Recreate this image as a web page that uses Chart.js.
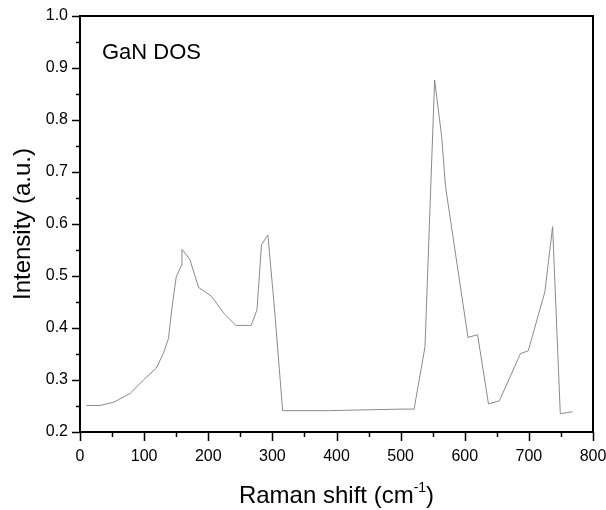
<!DOCTYPE html>
<html>
<head>
<meta charset="utf-8">
<script src="https://cdn.jsdelivr.net/npm/chart.js@4"></script>
<style>
  html, body { margin: 0; padding: 0; background: #fff; }
  #wrap { width: 606px; height: 510px; }
</style>
</head>
<body>
<div id="wrap"><canvas id="dosChart" width="606" height="510"></canvas></div>
<script>
// Raman shift (cm-1) and intensity
const ramanShift = [10, 31, 52, 78, 99, 119, 130, 138, 143, 150, 158, 159, 171, 185, 205, 224, 243, 267, 276, 283, 293, 304, 316, 385, 500, 521, 538, 553, 564, 570, 605, 620, 637, 654, 687, 699, 725, 737, 749, 768];
const intensity = [0.251, 0.251, 0.257, 0.274, 0.300, 0.323, 0.351, 0.38, 0.435, 0.498, 0.520, 0.551, 0.533, 0.478, 0.461, 0.429, 0.405, 0.405, 0.435, 0.560, 0.579, 0.427, 0.241, 0.241, 0.244, 0.244, 0.364, 0.877, 0.768, 0.672, 0.382, 0.387, 0.254, 0.260, 0.351, 0.356, 0.470, 0.595, 0.235, 0.239];

const xTicks = [0, 100, 200, 300, 400, 500, 600, 700, 800];
const yTicks = [0.2, 0.3, 0.4, 0.5, 0.6, 0.7, 0.8, 0.9, 1.0];

const FONT = 'Arial, "Liberation Sans", Helvetica, sans-serif';

// keep the plot box where the reference has it
function fixPadding(scale) {
    scale.paddingTop = 0;
    scale.paddingBottom = 0;
    scale.paddingLeft = 0;
    scale.paddingRight = 0;
}

// draws the frame, the outward major/minor ticks and the text labels
const framePlugin = {
    id: 'frame',
    afterDraw(chart) {
        const ctx = chart.ctx;
        const area = chart.chartArea;
        const xs = chart.scales.x;
        const ys = chart.scales.y;
        ctx.save();
        ctx.strokeStyle = '#000';
        ctx.lineWidth = 2;
        ctx.strokeRect(area.left, area.top, area.right - area.left, area.bottom - area.top);

        ctx.lineWidth = 1.5;
        ctx.beginPath();
        for (let i = 0; i < xTicks.length; i++) {
            const px = Math.round(xs.getPixelForValue(xTicks[i])) + 0.5;
            ctx.moveTo(px, area.bottom);
            ctx.lineTo(px, area.bottom + 9);
            if (i < xTicks.length - 1) {
                const mx = Math.round(xs.getPixelForValue((xTicks[i] + xTicks[i + 1]) / 2)) + 0.5;
                ctx.moveTo(mx, area.bottom);
                ctx.lineTo(mx, area.bottom + 5);
            }
        }
        for (let i = 0; i < yTicks.length; i++) {
            const py = Math.round(ys.getPixelForValue(yTicks[i])) + 0.5;
            ctx.moveTo(area.left, py);
            ctx.lineTo(area.left - 8, py);
            if (i < yTicks.length - 1) {
                const my = Math.round(ys.getPixelForValue((yTicks[i] + yTicks[i + 1]) / 2)) + 0.5;
                ctx.moveTo(area.left, my);
                ctx.lineTo(area.left - 4, my);
            }
        }
        ctx.stroke();

        // inset label
        ctx.fillStyle = '#000';
        ctx.font = '22px ' + FONT;
        ctx.textAlign = 'left';
        ctx.textBaseline = 'alphabetic';
        ctx.fillText('GaN DOS', area.left + 22, area.top + 43);

        // x axis title with superscript
        const main = 'Raman shift (cm';
        const sup = '-1';
        const close = ')';
        ctx.font = '24px ' + FONT;
        const w1 = ctx.measureText(main).width;
        const w3 = ctx.measureText(close).width;
        ctx.font = '14px ' + FONT;
        const w2 = ctx.measureText(sup).width;
        const total = w1 + w2 + w3;
        const cx = (area.left + area.right) / 2;
        let x0 = cx - total / 2;
        const base = 503;
        ctx.font = '24px ' + FONT;
        ctx.fillText(main, x0, base);
        ctx.font = '14px ' + FONT;
        ctx.fillText(sup, x0 + w1, base - 11);
        ctx.font = '24px ' + FONT;
        ctx.fillText(close, x0 + w1 + w2, base);
        ctx.restore();
    }
};

const ctx = document.getElementById('dosChart').getContext('2d');
new Chart(ctx, {
    type: 'line',
    data: {
        datasets: [{
            label: 'GaN DOS',
            data: ramanShift.map((x, i) => ({ x: x, y: intensity[i] })),
            borderColor: '#8a8a8a',
            borderWidth: 1,
            pointRadius: 0,
            fill: false,
            tension: 0
        }]
    },
    options: {
        responsive: false,
        animation: false,
        layout: {
            padding: { left: 0, right: 13, top: 16, bottom: 0 }
        },
        plugins: {
            legend: { display: false },
            tooltip: { enabled: false }
        },
        scales: {
            x: {
                type: 'linear',
                min: 0,
                max: 800,
                afterFit: (scale) => { scale.height = 78; fixPadding(scale); },
                afterBuildTicks: (scale) => { scale.ticks = xTicks.map(v => ({ value: v })); },
                grid: { display: false, drawTicks: false },
                border: { display: false },
                ticks: {
                    color: '#000',
                    padding: 15,
                    maxRotation: 0,
                    font: { family: FONT, size: 16 },
                    callback: (v) => String(v)
                }
            },
            y: {
                type: 'linear',
                min: 0.2,
                max: 1.0,
                afterFit: (scale) => { scale.width = 80; fixPadding(scale); },
                afterBuildTicks: (scale) => { scale.ticks = yTicks.map(v => ({ value: v })); },
                grid: { display: false, drawTicks: false },
                border: { display: false },
                title: {
                    display: true,
                    text: 'Intensity (a.u.)',
                    color: '#000',
                    font: { family: FONT, size: 24 },
                    padding: { top: 9, bottom: 6 }
                },
                ticks: {
                    color: '#000',
                    padding: 12,
                    font: { family: FONT, size: 16 },
                    callback: (v) => v.toFixed(1)
                }
            }
        }
    },
    plugins: [framePlugin]
});
</script>
</body>
</html>
